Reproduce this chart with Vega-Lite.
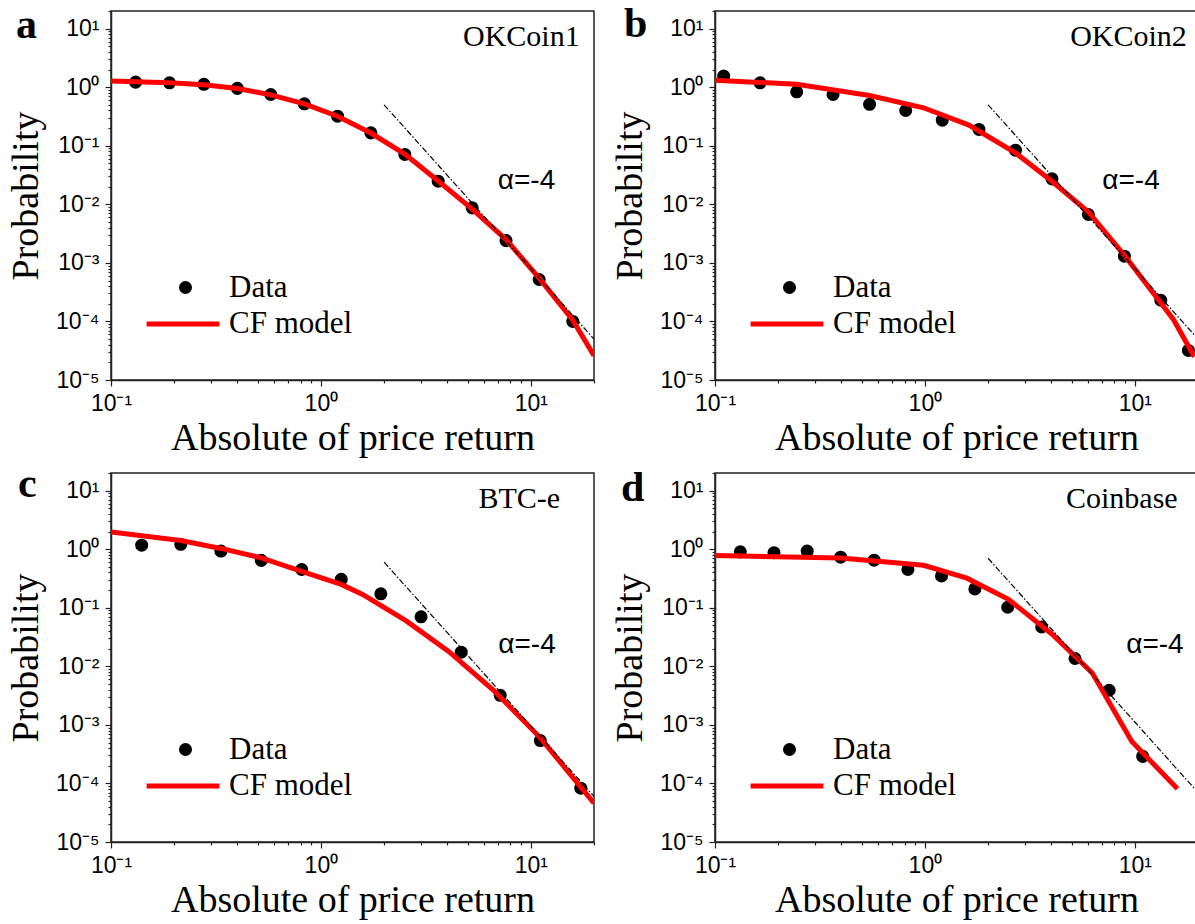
{
"$schema":"https://vega.github.io/schema/vega-lite/v6.json",
"autosize":{"type":"pad"},
"padding":{"left":6,"top":-1,"right":0,"bottom":0},
"background":"white",
"datasets":{
"pts":[
{"panel":"a","series":"Data","x":0.131,"y":1.22},{"panel":"a","series":"Data","x":0.19,"y":1.19},{"panel":"a","series":"Data","x":0.277,"y":1.12},{"panel":"a","series":"Data","x":0.40,"y":0.955},{"panel":"a","series":"Data","x":0.577,"y":0.75},{"panel":"a","series":"Data","x":0.834,"y":0.52},{"panel":"a","series":"Data","x":1.20,"y":0.32},{"panel":"a","series":"Data","x":1.73,"y":0.166},{"panel":"a","series":"Data","x":2.51,"y":0.071},{"panel":"a","series":"Data","x":3.62,"y":0.0248},{"panel":"a","series":"Data","x":5.26,"y":0.0087},{"panel":"a","series":"Data","x":7.62,"y":0.0024},{"panel":"a","series":"Data","x":10.96,"y":0.00052},{"panel":"a","series":"Data","x":15.85,"y":0.0001},
{"panel":"b","series":"Data","x":0.11,"y":1.55},{"panel":"b","series":"Data","x":0.164,"y":1.19},{"panel":"b","series":"Data","x":0.245,"y":0.835},{"panel":"b","series":"Data","x":0.365,"y":0.75},{"panel":"b","series":"Data","x":0.545,"y":0.51},{"panel":"b","series":"Data","x":0.81,"y":0.40},{"panel":"b","series":"Data","x":1.21,"y":0.274},{"panel":"b","series":"Data","x":1.81,"y":0.19},{"panel":"b","series":"Data","x":2.70,"y":0.084},{"panel":"b","series":"Data","x":4.03,"y":0.0272},{"panel":"b","series":"Data","x":6.01,"y":0.0067},{"panel":"b","series":"Data","x":8.92,"y":0.0013},{"panel":"b","series":"Data","x":13.3,"y":0.00023},{"panel":"b","series":"Data","x":18.0,"y":0.000032},
{"panel":"c","series":"Data","x":0.14,"y":1.17},{"panel":"c","series":"Data","x":0.215,"y":1.21},{"panel":"c","series":"Data","x":0.334,"y":0.93},{"panel":"c","series":"Data","x":0.52,"y":0.644},{"panel":"c","series":"Data","x":0.81,"y":0.45},{"panel":"c","series":"Data","x":1.25,"y":0.305},{"panel":"c","series":"Data","x":1.93,"y":0.173},{"panel":"c","series":"Data","x":3.0,"y":0.07},{"panel":"c","series":"Data","x":4.66,"y":0.0174},{"panel":"c","series":"Data","x":7.15,"y":0.0032},{"panel":"c","series":"Data","x":11.1,"y":0.00054},{"panel":"c","series":"Data","x":17.3,"y":0.000083},
{"panel":"d","series":"Data","x":0.132,"y":0.90},{"panel":"d","series":"Data","x":0.191,"y":0.87},{"panel":"d","series":"Data","x":0.275,"y":0.93},{"panel":"d","series":"Data","x":0.397,"y":0.73},{"panel":"d","series":"Data","x":0.573,"y":0.65},{"panel":"d","series":"Data","x":0.83,"y":0.45},{"panel":"d","series":"Data","x":1.20,"y":0.35},{"panel":"d","series":"Data","x":1.73,"y":0.21},{"panel":"d","series":"Data","x":2.48,"y":0.102},{"panel":"d","series":"Data","x":3.60,"y":0.047},{"panel":"d","series":"Data","x":5.19,"y":0.0136},{"panel":"d","series":"Data","x":7.55,"y":0.0039},{"panel":"d","series":"Data","x":10.9,"y":0.00029}
],
"fit":[
{"panel":"a","series":"CF model","x":0.1,"y":1.27},{"panel":"a","series":"CF model","x":0.131,"y":1.24},{"panel":"a","series":"CF model","x":0.19,"y":1.19},{"panel":"a","series":"CF model","x":0.277,"y":1.10},{"panel":"a","series":"CF model","x":0.40,"y":0.95},{"panel":"a","series":"CF model","x":0.577,"y":0.74},{"panel":"a","series":"CF model","x":0.834,"y":0.52},{"panel":"a","series":"CF model","x":1.2,"y":0.32},{"panel":"a","series":"CF model","x":1.73,"y":0.165},{"panel":"a","series":"CF model","x":2.51,"y":0.072},{"panel":"a","series":"CF model","x":3.62,"y":0.025},{"panel":"a","series":"CF model","x":5.26,"y":0.0083},{"panel":"a","series":"CF model","x":7.62,"y":0.0025},{"panel":"a","series":"CF model","x":10.96,"y":0.00055},{"panel":"a","series":"CF model","x":15.85,"y":0.000105},{"panel":"a","series":"CF model","x":20,"y":0.000026},
{"panel":"b","series":"CF model","x":0.1,"y":1.32},{"panel":"b","series":"CF model","x":0.245,"y":1.12},{"panel":"b","series":"CF model","x":0.545,"y":0.72},{"panel":"b","series":"CF model","x":0.985,"y":0.445},{"panel":"b","series":"CF model","x":1.62,"y":0.225},{"panel":"b","series":"CF model","x":2.70,"y":0.0757},{"panel":"b","series":"CF model","x":4.03,"y":0.0248},{"panel":"b","series":"CF model","x":6.01,"y":0.0074},{"panel":"b","series":"CF model","x":8.92,"y":0.00135},{"panel":"b","series":"CF model","x":15.3,"y":0.000107},{"panel":"b","series":"CF model","x":19.2,"y":0.000025},
{"panel":"c","series":"CF model","x":0.1,"y":1.96},{"panel":"c","series":"CF model","x":0.215,"y":1.41},{"panel":"c","series":"CF model","x":0.334,"y":1.03},{"panel":"c","series":"CF model","x":0.52,"y":0.71},{"panel":"c","series":"CF model","x":0.81,"y":0.42},{"panel":"c","series":"CF model","x":1.25,"y":0.25},{"panel":"c","series":"CF model","x":1.58,"y":0.169},{"panel":"c","series":"CF model","x":2.56,"y":0.059},{"panel":"c","series":"CF model","x":4.06,"y":0.018},{"panel":"c","series":"CF model","x":6.71,"y":0.00376},{"panel":"c","series":"CF model","x":11.1,"y":0.0006},{"panel":"c","series":"CF model","x":20,"y":0.000046},
{"panel":"d","series":"CF model","x":0.1,"y":0.78},{"panel":"d","series":"CF model","x":0.397,"y":0.71},{"panel":"d","series":"CF model","x":0.985,"y":0.53},{"panel":"d","series":"CF model","x":1.585,"y":0.32},{"panel":"d","series":"CF model","x":2.5,"y":0.139},{"panel":"d","series":"CF model","x":4.05,"y":0.035},{"panel":"d","series":"CF model","x":6.27,"y":0.0077},{"panel":"d","series":"CF model","x":9.68,"y":0.00052},{"panel":"d","series":"CF model","x":15.96,"y":0.000081}
],
"slope":[
{"panel":"a","x":2,"y":0.5},{"panel":"a","x":20,"y":0.00005},
{"panel":"b","x":2,"y":0.5},{"panel":"b","x":20,"y":0.00005},
{"panel":"c","x":2,"y":0.6},{"panel":"c","x":20,"y":0.00006},
{"panel":"d","x":2,"y":0.7},{"panel":"d","x":20,"y":0.00007}
],
"names":[
{"panel":"a","label":"OKCoin1","x":17.1,"y":5.05},
{"panel":"b","label":"OKCoin2","x":17.7,"y":5.05},
{"panel":"c","label":"BTC-e","x":13.8,"y":5.05},
{"panel":"d","label":"Coinbase","x":16.0,"y":5.05}
],
"alphas":[
{"panel":"a","label":"α=-4","x":6.96,"y":0.0181},
{"panel":"b","label":"α=-4","x":7.0,"y":0.0181},
{"panel":"c","label":"α=-4","x":7.0,"y":0.017},
{"panel":"d","label":"α=-4","x":9.1,"y":0.017}
],
"letters":[
{"panel":"a","label":"a","x":0.0353,"y":6.91},
{"panel":"b","label":"b","x":0.0369,"y":7.19},
{"panel":"c","label":"c","x":0.0361,"y":7.78},
{"panel":"d","label":"d","x":0.0357,"y":6.64}
]
},
"columns":2,
"spacing":{"row":93,"column":121},
"bounds":"flush",
"resolve":{"scale":{"fill":"independent","stroke":"independent"},"legend":{"fill":"independent","stroke":"independent"}},
"concat":[
{"width":483,"height":369,
"encoding":{
"x":{"field":"x","type":"quantitative","scale":{"type":"log","domain":[0.1,20],"nice":false},"axis":{"title":"Absolute of price return","labelFontSize":23,"values":[0.1,0.2,0.3,0.4,0.5,0.6,0.7,0.8,0.9,1,2,3,4,5,6,7,8,9,10,20],"labelExpr":"datum.value==0.1?'10⁻¹':datum.value==1?'10⁰':datum.value==10?'10¹':''","tickSize":{"condition":{"test":"datum.value==0.1||datum.value==1||datum.value==10","value":6},"value":3}}},
"y":{"field":"y","type":"quantitative","scale":{"type":"log","domain":[0.00001,20],"nice":false},"axis":{"title":"Probability","labelFontSize":23,"values":[0.00001,0.00002,0.00003,0.00004,0.00005,0.00006,0.00007,0.00008,0.00009,0.0001,0.0002,0.0003,0.0004,0.0005,0.0006,0.0007,0.0008,0.0009,0.001,0.002,0.003,0.004,0.005,0.006,0.007,0.008,0.009,0.01,0.02,0.03,0.04,0.05,0.06,0.07,0.08,0.09,0.1,0.2,0.3,0.4,0.5,0.6,0.7,0.8,0.9,1,2,3,4,5,6,7,8,9,10,20],"labelExpr":"datum.value==10?'10¹':datum.value==1?'10⁰':datum.value==0.1?'10⁻¹':datum.value==0.01?'10⁻²':datum.value==0.001?'10⁻³':datum.value==0.0001?'10⁻⁴':datum.value==0.00001?'10⁻⁵':''","tickSize":{"condition":{"test":"indexof([0.00001,0.0001,0.001,0.01,0.1,1,10],datum.value)>=0","value":6},"value":3}}}
},
"layer":[
{"data":{"name":"pts"},"transform":[{"filter":"datum.panel==='a'"}],"mark":{"type":"point","shape":"circle","filled":true,"size":170,"opacity":1},
"encoding":{"fill":{"field":"series","type":"nominal","scale":{"domain":["Data"],"range":["#000000"]},
"legend":{"title":null,"orient":"none","legendX":59,"legendY":261,"padding":0,"symbolType":"circle","symbolSize":170,"labelFont":"Liberation Serif","labelFontSize":31,"labelColor":"#000","labelOffset":28}}}},
{"data":{"name":"fit"},"transform":[{"filter":"datum.panel==='a'"}],"mark":{"type":"line","strokeWidth":5,"clip":true},"encoding":{"stroke":{"field":"series","type":"nominal","scale":{"domain":["CF model"],"range":["#ff0000"]},
"legend":{"title":null,"orient":"none","legendX":33,"legendY":274,"padding":0,"symbolType":"stroke","symbolSize":5300,"symbolStrokeWidth":5,"labelFont":"Liberation Serif","labelFontSize":31,"labelColor":"#000","labelOffset":7}}}},
{"data":{"name":"slope"},"transform":[{"filter":"datum.panel==='a'"}],"mark":{"type":"line","color":"#000000","strokeWidth":1.2,"strokeDash":[6,2,1.5,2],"clip":true},"encoding":{}},
{"data":{"name":"names"},"transform":[{"filter":"datum.panel==='a'"}],"mark":{"type":"text","align":"right","baseline":"alphabetic","font":"Liberation Serif","fontSize":30,"color":"#000000"},"encoding":{"text":{"field":"label"}}},
{"data":{"name":"alphas"},"transform":[{"filter":"datum.panel==='a'"}],"mark":{"type":"text","align":"left","baseline":"alphabetic","font":"Liberation Sans","fontSize":28,"color":"#000000"},"encoding":{"text":{"field":"label"}}},
{"data":{"name":"letters"},"transform":[{"filter":"datum.panel==='a'"}],"mark":{"type":"text","align":"left","baseline":"alphabetic","font":"Liberation Serif","fontSize":42,"fontWeight":"bold","color":"#000000"},"encoding":{"text":{"field":"label"}}}
]},
{"width":483,"height":369,
"encoding":{
"x":{"field":"x","type":"quantitative","scale":{"type":"log","domain":[0.1,20],"nice":false},"axis":{"title":"Absolute of price return","labelFontSize":23,"values":[0.1,0.2,0.3,0.4,0.5,0.6,0.7,0.8,0.9,1,2,3,4,5,6,7,8,9,10,20],"labelExpr":"datum.value==0.1?'10⁻¹':datum.value==1?'10⁰':datum.value==10?'10¹':''","tickSize":{"condition":{"test":"datum.value==0.1||datum.value==1||datum.value==10","value":6},"value":3}}},
"y":{"field":"y","type":"quantitative","scale":{"type":"log","domain":[0.00001,20],"nice":false},"axis":{"title":"Probability","labelFontSize":23,"values":[0.00001,0.00002,0.00003,0.00004,0.00005,0.00006,0.00007,0.00008,0.00009,0.0001,0.0002,0.0003,0.0004,0.0005,0.0006,0.0007,0.0008,0.0009,0.001,0.002,0.003,0.004,0.005,0.006,0.007,0.008,0.009,0.01,0.02,0.03,0.04,0.05,0.06,0.07,0.08,0.09,0.1,0.2,0.3,0.4,0.5,0.6,0.7,0.8,0.9,1,2,3,4,5,6,7,8,9,10,20],"labelExpr":"datum.value==10?'10¹':datum.value==1?'10⁰':datum.value==0.1?'10⁻¹':datum.value==0.01?'10⁻²':datum.value==0.001?'10⁻³':datum.value==0.0001?'10⁻⁴':datum.value==0.00001?'10⁻⁵':''","tickSize":{"condition":{"test":"indexof([0.00001,0.0001,0.001,0.01,0.1,1,10],datum.value)>=0","value":6},"value":3}}}
},
"layer":[
{"data":{"name":"pts"},"transform":[{"filter":"datum.panel==='b'"}],"mark":{"type":"point","shape":"circle","filled":true,"size":170,"opacity":1},
"encoding":{"fill":{"field":"series","type":"nominal","scale":{"domain":["Data"],"range":["#000000"]},
"legend":{"title":null,"orient":"none","legendX":59,"legendY":261,"padding":0,"symbolType":"circle","symbolSize":170,"labelFont":"Liberation Serif","labelFontSize":31,"labelColor":"#000","labelOffset":28}}}},
{"data":{"name":"fit"},"transform":[{"filter":"datum.panel==='b'"}],"mark":{"type":"line","strokeWidth":5,"clip":true},"encoding":{"stroke":{"field":"series","type":"nominal","scale":{"domain":["CF model"],"range":["#ff0000"]},
"legend":{"title":null,"orient":"none","legendX":33,"legendY":274,"padding":0,"symbolType":"stroke","symbolSize":5300,"symbolStrokeWidth":5,"labelFont":"Liberation Serif","labelFontSize":31,"labelColor":"#000","labelOffset":7}}}},
{"data":{"name":"slope"},"transform":[{"filter":"datum.panel==='b'"}],"mark":{"type":"line","color":"#000000","strokeWidth":1.2,"strokeDash":[6,2,1.5,2],"clip":true},"encoding":{}},
{"data":{"name":"names"},"transform":[{"filter":"datum.panel==='b'"}],"mark":{"type":"text","align":"right","baseline":"alphabetic","font":"Liberation Serif","fontSize":30,"color":"#000000"},"encoding":{"text":{"field":"label"}}},
{"data":{"name":"alphas"},"transform":[{"filter":"datum.panel==='b'"}],"mark":{"type":"text","align":"left","baseline":"alphabetic","font":"Liberation Sans","fontSize":28,"color":"#000000"},"encoding":{"text":{"field":"label"}}},
{"data":{"name":"letters"},"transform":[{"filter":"datum.panel==='b'"}],"mark":{"type":"text","align":"left","baseline":"alphabetic","font":"Liberation Serif","fontSize":42,"fontWeight":"bold","color":"#000000"},"encoding":{"text":{"field":"label"}}}
]},
{"width":483,"height":369,
"encoding":{
"x":{"field":"x","type":"quantitative","scale":{"type":"log","domain":[0.1,20],"nice":false},"axis":{"title":"Absolute of price return","labelFontSize":23,"values":[0.1,0.2,0.3,0.4,0.5,0.6,0.7,0.8,0.9,1,2,3,4,5,6,7,8,9,10,20],"labelExpr":"datum.value==0.1?'10⁻¹':datum.value==1?'10⁰':datum.value==10?'10¹':''","tickSize":{"condition":{"test":"datum.value==0.1||datum.value==1||datum.value==10","value":6},"value":3}}},
"y":{"field":"y","type":"quantitative","scale":{"type":"log","domain":[0.00001,20],"nice":false},"axis":{"title":"Probability","labelFontSize":23,"values":[0.00001,0.00002,0.00003,0.00004,0.00005,0.00006,0.00007,0.00008,0.00009,0.0001,0.0002,0.0003,0.0004,0.0005,0.0006,0.0007,0.0008,0.0009,0.001,0.002,0.003,0.004,0.005,0.006,0.007,0.008,0.009,0.01,0.02,0.03,0.04,0.05,0.06,0.07,0.08,0.09,0.1,0.2,0.3,0.4,0.5,0.6,0.7,0.8,0.9,1,2,3,4,5,6,7,8,9,10,20],"labelExpr":"datum.value==10?'10¹':datum.value==1?'10⁰':datum.value==0.1?'10⁻¹':datum.value==0.01?'10⁻²':datum.value==0.001?'10⁻³':datum.value==0.0001?'10⁻⁴':datum.value==0.00001?'10⁻⁵':''","tickSize":{"condition":{"test":"indexof([0.00001,0.0001,0.001,0.01,0.1,1,10],datum.value)>=0","value":6},"value":3}}}
},
"layer":[
{"data":{"name":"pts"},"transform":[{"filter":"datum.panel==='c'"}],"mark":{"type":"point","shape":"circle","filled":true,"size":170,"opacity":1},
"encoding":{"fill":{"field":"series","type":"nominal","scale":{"domain":["Data"],"range":["#000000"]},
"legend":{"title":null,"orient":"none","legendX":59,"legendY":261,"padding":0,"symbolType":"circle","symbolSize":170,"labelFont":"Liberation Serif","labelFontSize":31,"labelColor":"#000","labelOffset":28}}}},
{"data":{"name":"fit"},"transform":[{"filter":"datum.panel==='c'"}],"mark":{"type":"line","strokeWidth":5,"clip":true},"encoding":{"stroke":{"field":"series","type":"nominal","scale":{"domain":["CF model"],"range":["#ff0000"]},
"legend":{"title":null,"orient":"none","legendX":33,"legendY":274,"padding":0,"symbolType":"stroke","symbolSize":5300,"symbolStrokeWidth":5,"labelFont":"Liberation Serif","labelFontSize":31,"labelColor":"#000","labelOffset":7}}}},
{"data":{"name":"slope"},"transform":[{"filter":"datum.panel==='c'"}],"mark":{"type":"line","color":"#000000","strokeWidth":1.2,"strokeDash":[6,2,1.5,2],"clip":true},"encoding":{}},
{"data":{"name":"names"},"transform":[{"filter":"datum.panel==='c'"}],"mark":{"type":"text","align":"right","baseline":"alphabetic","font":"Liberation Serif","fontSize":30,"color":"#000000"},"encoding":{"text":{"field":"label"}}},
{"data":{"name":"alphas"},"transform":[{"filter":"datum.panel==='c'"}],"mark":{"type":"text","align":"left","baseline":"alphabetic","font":"Liberation Sans","fontSize":28,"color":"#000000"},"encoding":{"text":{"field":"label"}}},
{"data":{"name":"letters"},"transform":[{"filter":"datum.panel==='c'"}],"mark":{"type":"text","align":"left","baseline":"alphabetic","font":"Liberation Serif","fontSize":42,"fontWeight":"bold","color":"#000000"},"encoding":{"text":{"field":"label"}}}
]},
{"width":483,"height":369,
"encoding":{
"x":{"field":"x","type":"quantitative","scale":{"type":"log","domain":[0.1,20],"nice":false},"axis":{"title":"Absolute of price return","labelFontSize":23,"values":[0.1,0.2,0.3,0.4,0.5,0.6,0.7,0.8,0.9,1,2,3,4,5,6,7,8,9,10,20],"labelExpr":"datum.value==0.1?'10⁻¹':datum.value==1?'10⁰':datum.value==10?'10¹':''","tickSize":{"condition":{"test":"datum.value==0.1||datum.value==1||datum.value==10","value":6},"value":3}}},
"y":{"field":"y","type":"quantitative","scale":{"type":"log","domain":[0.00001,20],"nice":false},"axis":{"title":"Probability","labelFontSize":23,"values":[0.00001,0.00002,0.00003,0.00004,0.00005,0.00006,0.00007,0.00008,0.00009,0.0001,0.0002,0.0003,0.0004,0.0005,0.0006,0.0007,0.0008,0.0009,0.001,0.002,0.003,0.004,0.005,0.006,0.007,0.008,0.009,0.01,0.02,0.03,0.04,0.05,0.06,0.07,0.08,0.09,0.1,0.2,0.3,0.4,0.5,0.6,0.7,0.8,0.9,1,2,3,4,5,6,7,8,9,10,20],"labelExpr":"datum.value==10?'10¹':datum.value==1?'10⁰':datum.value==0.1?'10⁻¹':datum.value==0.01?'10⁻²':datum.value==0.001?'10⁻³':datum.value==0.0001?'10⁻⁴':datum.value==0.00001?'10⁻⁵':''","tickSize":{"condition":{"test":"indexof([0.00001,0.0001,0.001,0.01,0.1,1,10],datum.value)>=0","value":6},"value":3}}}
},
"layer":[
{"data":{"name":"pts"},"transform":[{"filter":"datum.panel==='d'"}],"mark":{"type":"point","shape":"circle","filled":true,"size":170,"opacity":1},
"encoding":{"fill":{"field":"series","type":"nominal","scale":{"domain":["Data"],"range":["#000000"]},
"legend":{"title":null,"orient":"none","legendX":59,"legendY":261,"padding":0,"symbolType":"circle","symbolSize":170,"labelFont":"Liberation Serif","labelFontSize":31,"labelColor":"#000","labelOffset":28}}}},
{"data":{"name":"fit"},"transform":[{"filter":"datum.panel==='d'"}],"mark":{"type":"line","strokeWidth":5,"clip":true},"encoding":{"stroke":{"field":"series","type":"nominal","scale":{"domain":["CF model"],"range":["#ff0000"]},
"legend":{"title":null,"orient":"none","legendX":33,"legendY":274,"padding":0,"symbolType":"stroke","symbolSize":5300,"symbolStrokeWidth":5,"labelFont":"Liberation Serif","labelFontSize":31,"labelColor":"#000","labelOffset":7}}}},
{"data":{"name":"slope"},"transform":[{"filter":"datum.panel==='d'"}],"mark":{"type":"line","color":"#000000","strokeWidth":1.2,"strokeDash":[6,2,1.5,2],"clip":true},"encoding":{}},
{"data":{"name":"names"},"transform":[{"filter":"datum.panel==='d'"}],"mark":{"type":"text","align":"right","baseline":"alphabetic","font":"Liberation Serif","fontSize":30,"color":"#000000"},"encoding":{"text":{"field":"label"}}},
{"data":{"name":"alphas"},"transform":[{"filter":"datum.panel==='d'"}],"mark":{"type":"text","align":"left","baseline":"alphabetic","font":"Liberation Sans","fontSize":28,"color":"#000000"},"encoding":{"text":{"field":"label"}}},
{"data":{"name":"letters"},"transform":[{"filter":"datum.panel==='d'"}],"mark":{"type":"text","align":"left","baseline":"alphabetic","font":"Liberation Serif","fontSize":42,"fontWeight":"bold","color":"#000000"},"encoding":{"text":{"field":"label"}}}
]}
],
"config":{
"view":{"stroke":"#222222","strokeWidth":1.5},
"axis":{"domainColor":"#222222","domainWidth":1.5,"tickColor":"#222222","tickWidth":1.2,"labelFont":"Liberation Sans","labelFontSize":23,"labelColor":"#000000","labelPadding":6,"labelFlush":false,"labelOverlap":false,"grid":false,"titleFont":"Liberation Serif","titleFontSize":38,"titleFontWeight":"normal","titleColor":"#000000"},
"axisX":{"titlePadding":4},
"axisY":{"titlePadding":10}
}
}
